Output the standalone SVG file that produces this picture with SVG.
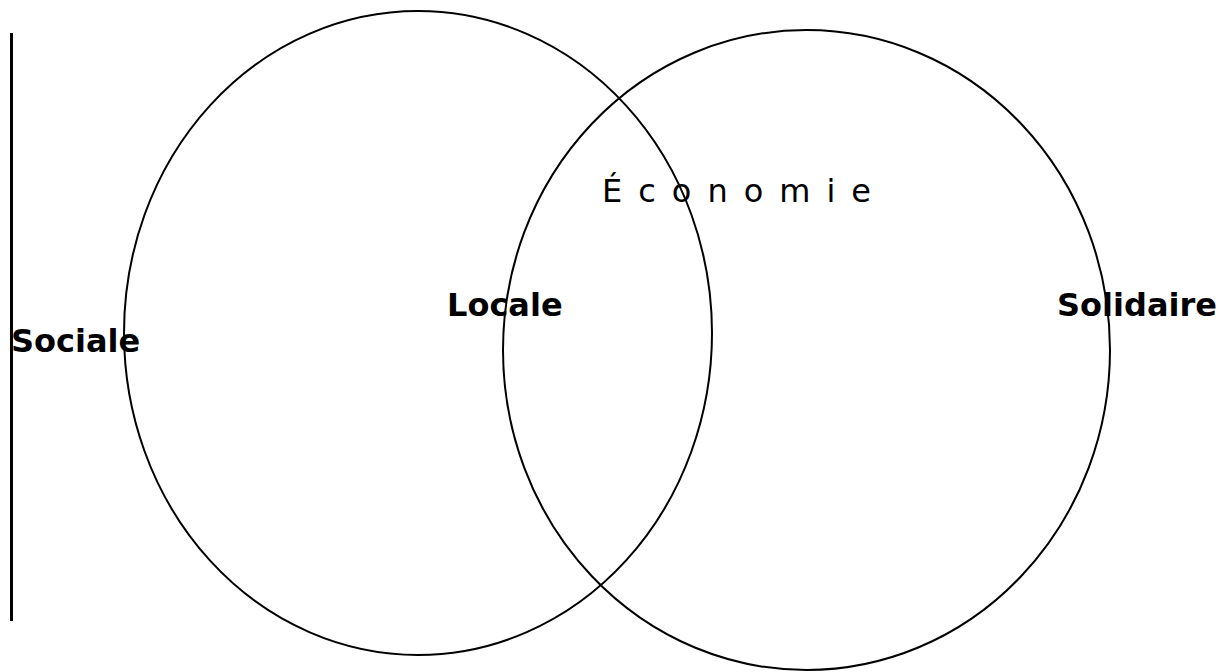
<svg xmlns="http://www.w3.org/2000/svg" width="1229" height="672" viewBox="0 0 1229 672">
<style>
.c{fill:none;stroke:#000;stroke-width:2}
.b{font-family:"DejaVu Sans",sans-serif;font-weight:bold;font-size:32px;fill:#000}
.t{font-family:"DejaVu Sans",sans-serif;font-size:32px;fill:#000;letter-spacing:16px}
</style>
<rect width="1229" height="672" fill="#fff"/>
<g id="title"><text class="t" x="602" y="202">Économie</text></g>
<g id="sociale"><text class="b" x="11" y="352">Sociale</text></g>
<g id="locale"><text class="b" x="447" y="316">Locale</text></g>
<g id="solidaire"><text class="b" x="1057" y="316">Solidaire</text></g>
<g id="bar"><line x1="11.5" y1="33" x2="11.5" y2="621" stroke="#000" stroke-width="3"/></g>
<g id="circle-left"><ellipse class="c" cx="418" cy="333" rx="294" ry="322"/></g>
<g id="circle-right"><ellipse class="c" cx="806.5" cy="350" rx="303.5" ry="320"/></g>
</svg>
